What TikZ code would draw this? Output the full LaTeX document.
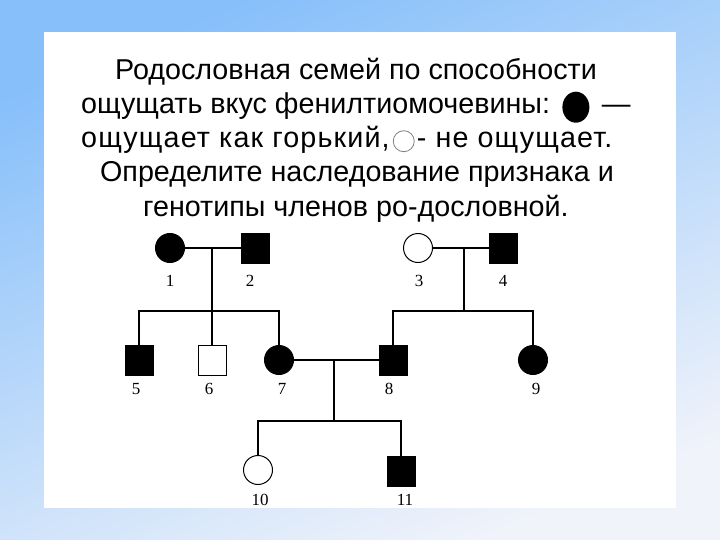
\documentclass[tikz,border=0pt]{standalone}
\usepackage{fontspec}
\setmainfont{Liberation Sans}
\newfontfamily\numfont{Liberation Serif}
\usetikzlibrary{positioning,calc,shapes.geometric}

\definecolor{bgtop}{RGB}{134,191,250}
\definecolor{bgbot}{RGB}{240,243,250}

\begin{document}
\begin{tikzpicture}[x=1pt,y=-1pt,
    ttl/.style={font=\fontsize{28.7}{34}\selectfont,inner sep=0pt},
    wide/.style={font=\fontsize{28.7}{34}\selectfont\addfontfeature{LetterSpace=4}},
    num/.style={font=\numfont\fontsize{17}{17}\selectfont,inner sep=0pt},
    fem/.style={circle,draw,line width=1pt,minimum size=29pt,inner sep=0pt},
    mal/.style={rectangle,draw,line width=1pt,minimum width=28pt,minimum height=30pt,inner sep=0pt},
    hit/.style={fill=black},
    kin/.style={line width=1.1pt}
]
\useasboundingbox (0,0) rectangle (720,540);
\shade[top color=bgtop,bottom color=bgbot,shading angle=22] (0,0) rectangle (720,540);
\fill[white] (44,32) rectangle (676,508);

% title
\node[ttl,anchor=base] (t1) at (356,80) {Родословная семей по способности};
\node[ttl,anchor=base west] (t2) at (81,114) {\strut ощущать вкус фенилтиомочевины:};
\node[ellipse,fill=black,minimum width=27pt,minimum height=31pt,inner sep=0pt,right=12pt of t2] (blot) {};
\node[ttl,right=12pt of blot] (t2b) {\strut —};
\node[ttl,wide,anchor=base west] (t3) at (81,148) {\strut ощущает как горький,};
\node[circle,draw=gray,line width=0.8pt,minimum size=21pt,inner sep=0pt,right=3pt of t3] (ring) {};
\node[ttl,wide,right=2pt of ring] (t3b) {\strut - не ощущает.};
\node[ttl,anchor=base] (t4) at (357,182) {Определите наследование признака и};
\node[ttl,anchor=base] (t5) at (356,216) {генотипы членов ро-дословной.};

% generation I
\node[fem,hit] (p1) at (170,248) {};
\node[mal,hit] (p2) at (255,248) {};
\node[fem] (p3) at (418,248) {};
\node[mal,hit] (p4) at (503,248) {};
% generation II
\node[mal,hit] (p5) at (139,360) {};
\node[mal] (p6) at (212,360) {};
\node[fem,hit] (p7) at (279,360) {};
\node[mal,hit] (p8) at (393,360) {};
\node[fem,hit] (p9) at (533,360) {};
% generation III
\node[fem] (p10) at (258,470) {};
\node[mal,hit] (p11) at (401,471) {};

\foreach \i/\x/\y in {1/170/281,2/250/281,3/419/281,4/503/281,5/136/389,6/209/389,7/282/389,8/389/389,9/536/389,10/260/500,11/405/500}
  \node[num] (n\i) at (\x,\y) {\i};

\coordinate (m12) at (212,248);
\coordinate (s12) at (212,311);
\coordinate (m34) at (464,248);
\coordinate (s34) at (464,311);
\coordinate (m78) at (334,360);
\coordinate (s78) at (334,421);

\draw[kin] (p1) -- (p2);
\draw[kin] (m12) -- (p6.north);
\draw[kin] (p5.north) |- (s12) -| (p7.north);
\draw[kin] (p3) -- (p4);
\draw[kin] (m34) -- (s34);
\draw[kin] (p8.north) |- (s34) -| (p9.north);
\draw[kin] (p7) -- (p8);
\draw[kin] (m78) -- (s78);
\draw[kin] (p10.north) |- (s78) -| (p11.north);
\end{tikzpicture}
\end{document}
